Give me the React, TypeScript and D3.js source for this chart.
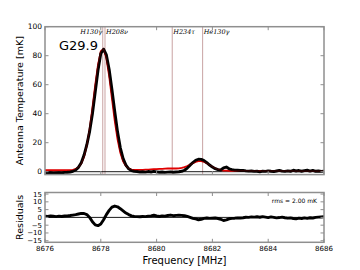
import React from 'react';
import * as d3 from 'd3';

// frequency grid of the spectrum (MHz), 0.1 MHz channels
const freqStart = 8676;
const freqStep = 0.1;

// observed antenna temperature (mK)
const dataValues = [
  -0.6, -0.9, -0.7, -1.0, -0.8, -0.6, -0.9, -0.5, -0.4, -0.2,
  0.3, 1.2, 3.0, 6.2, 11.5, 18.6, 27.8, 40.0, 55.0, 70.0,
  81.5, 84.5, 80.5, 70.5, 56.5, 41.5, 27.5, 16.5, 9.0, 4.5,
  2.0, 0.8, 0.3, 0.1, -0.2, 0.0, -0.3, 0.1, -0.2, 0.2,
  -0.1, -0.4, -0.2, -0.5, -0.3, -0.1, -0.4, -0.2, 0.0, 0.3,
  1.0, 2.5, 4.5, 6.3, 7.8, 8.6, 8.5, 7.6, 6.2, 4.6,
  3.2, 2.1, 1.4, 1.2, 2.6, 3.2, 2.0, 1.4, 1.1, 1.0,
  0.8, 0.9, 0.6, 0.4, 0.5, 0.2, 0.3, -0.1, 0.4, 0.2,
  0.6, 0.3, 0.1, 0.5, 0.9, 0.4, 0.2, 0.6, 0.3, 1.0,
  0.5, 0.8, 0.3, 0.7, 1.0, 0.4, 0.9, 0.3, 0.5, 0.2,
  0.4,
];

// fitted model (mK)
const modelValues = [
  1.0, 1.0, 1.0, 1.0, 1.0, 1.0, 1.0, 1.0, 1.0, 1.1,
  1.3, 1.9, 3.1, 5.6, 10.4, 18.2, 29.6, 44.1, 59.8, 73.9,
  83.0, 84.6, 78.3, 65.9, 50.4, 35.1, 22.3, 13.1, 7.2, 3.9,
  2.2, 1.5, 1.2, 1.2, 1.3, 1.3, 1.4, 1.5, 1.6, 1.7,
  1.8, 1.9, 2.0, 2.1, 2.2, 2.2, 2.2, 2.2, 2.3, 2.6,
  3.1, 3.9, 4.9, 5.9, 6.8, 7.3, 7.3, 6.8, 5.8, 4.6,
  3.4, 2.4, 1.6, 1.1, 0.8, 0.7, 0.6, 0.6, 0.6, 0.6,
  0.6, 0.6, 0.6, 0.6, 0.5, 0.5, 0.5, 0.5, 0.5, 0.5,
  0.5, 0.5, 0.5, 0.5, 0.5, 0.5, 0.5, 0.5, 0.5, 0.5,
  0.4, 0.4, 0.4, 0.4, 0.4, 0.4, 0.4, 0.4, 0.4, 0.4,
  0.4,
];

// residuals (mK)
const residValues = [
  0.8, 0.6, 0.9, 0.7, 0.5, 0.8, 0.6, 0.9, 1.0, 1.2,
  1.5, 1.8, 2.2, 2.6, 2.5, 1.8, 0.0, -2.8, -4.8, -5.3,
  -4.2, -1.5, 1.8, 4.5, 6.6, 7.3, 6.8, 5.6, 4.2, 2.8,
  1.8, 1.0, 0.6, 0.5, 0.4, 0.6, 0.5, 0.8, 1.0, 1.4,
  0.9, 0.6, 1.0, 0.8, 1.2, 1.5, 1.1, 1.3, 1.4, 1.3,
  1.1, 0.6, 0.0, -0.6, -1.0, -1.5, -1.2, -0.6, -0.4, -0.6,
  -0.5, -0.4, -0.7, -1.2, -2.0, -1.6, -0.9, -0.6, -0.5, -0.3,
  -0.4, -0.2, 0.1, 0.0, 0.3, 0.2, 0.4, 0.1, 0.5, 0.2,
  -0.1, 0.3, 0.0, -0.3, -0.1, 0.2, -0.2, -0.5, -0.3, -0.7,
  -0.9, -0.5, -0.7, -0.3, -0.6, -0.2, -0.4, 0.0, 0.2, 0.3,
  0.4,
];

// recombination line markers
const lineFreqs = [8678.07, 8678.15, 8680.56, 8681.65];
const lineNames = ['H130γ', 'H208ν', 'H234τ', 'He130γ'];

const xTicks = [8676, 8678, 8680, 8682, 8684, 8686];
const tempTicks = [0, 20, 40, 60, 80, 100];
const residTicks = [-15, -10, -5, 0, 5, 10, 15];

const W = 360;
const H = 270;
const left = 45;
const right = 324;
const topA = 26.7;
const botA = 174.6;
const topB = 192.5;
const botB = 242.3;

const spine = '#8f8f8f';
const sans = 'DejaVu Sans, sans-serif';

const App = () => {
  const freqs = dataValues.map((_, i) => freqStart + i * freqStep);

  const x = d3.scaleLinear().domain([8676, 8686]).range([left, right]);
  const yA = d3.scaleLinear().domain([-2, 100]).range([botA, topA]);
  const yB = d3.scaleLinear().domain([-16, 16]).range([botB, topB]);

  const lineA = d3.line<number>().x((_, i) => x(freqs[i])).y(d => yA(d));
  const lineB = d3.line<number>().x((_, i) => x(freqs[i])).y(d => yB(d));

  const tick = 3.5;

  return (
    <svg width={W} height={H} style={{ position: 'absolute', left: 0, top: 0, background: '#fff' }}>
      <defs>
        <clipPath id="clipA">
          <rect x={left} y={topA} width={right - left} height={botA - topA} />
        </clipPath>
        <clipPath id="clipB">
          <rect x={left} y={topB} width={right - left} height={botB - topB} />
        </clipPath>
      </defs>

      {/* top panel: spectrum, fit, line markers */}
      <g clipPath="url(#clipA)">
        {lineFreqs.map((f, i) => (
          <line key={i} x1={x(f)} x2={x(f)} y1={topA} y2={botA} stroke="#c9a3a3" strokeWidth={1} />
        ))}
        <line x1={left} x2={right} y1={yA(0)} y2={yA(0)} stroke="#000" strokeWidth={0.9} />
        <path d={lineA(modelValues) || ''} fill="none" stroke="#e00000" strokeWidth={1.8} />
        <path d={lineA(dataValues) || ''} fill="none" stroke="#000" strokeWidth={2.9} strokeLinejoin="round" />
        <path d={lineA(modelValues) || ''} fill="none" stroke="#e00000" strokeWidth={0.6} opacity={0.5} />
      </g>

      {lineFreqs.map((f, i) => (
        <text key={i} x={x(f) + (i === 0 ? -0.5 : 1)} y={33.5} fontSize={6.5} fontStyle="italic"
          fontFamily="DejaVu Serif, serif" textAnchor={i === 0 ? 'end' : 'start'} fill="#000">
          {lineNames[i]}
        </text>
      ))}

      <text x={59} y={50} fontSize={13} fontFamily={sans} fill="#000">G29.9</text>

      <rect x={left} y={topA} width={right - left} height={botA - topA} fill="none" stroke={spine} strokeWidth={1.5} />
      {xTicks.map(t => (
        <g key={t}>
          <line x1={x(t)} x2={x(t)} y1={botA} y2={botA - tick} stroke={spine} />
          <line x1={x(t)} x2={x(t)} y1={topA} y2={topA + tick} stroke={spine} />
        </g>
      ))}
      {tempTicks.map(t => (
        <g key={t}>
          <line x1={left} x2={left + tick} y1={yA(t)} y2={yA(t)} stroke={spine} />
          <line x1={right} x2={right - tick} y1={yA(t)} y2={yA(t)} stroke={spine} />
          <text x={left - 3} y={yA(t) + 2.6} fontSize={7.5} fontFamily={sans} textAnchor="end">{t}</text>
        </g>
      ))}
      <text transform={`translate(23,${(topA + botA) / 2}) rotate(-90)`} fontSize={9.5} fontFamily={sans}
        textAnchor="middle">Antenna Temperature [mK]</text>

      {/* residual panel */}
      <g clipPath="url(#clipB)">
        <line x1={left} x2={right} y1={yB(0)} y2={yB(0)} stroke="#000" strokeWidth={0.9} />
        <path d={lineB(residValues) || ''} fill="none" stroke="#000" strokeWidth={2.9} strokeLinejoin="round" />
      </g>
      <rect x={left} y={topB} width={right - left} height={botB - topB} fill="none" stroke={spine} strokeWidth={1.5} />
      {xTicks.map(t => (
        <g key={t}>
          <line x1={x(t)} x2={x(t)} y1={botB} y2={botB - tick} stroke={spine} />
          <line x1={x(t)} x2={x(t)} y1={topB} y2={topB + tick} stroke={spine} />
          <text x={x(t)} y={251} fontSize={7} fontFamily={sans} textAnchor="middle">{t}</text>
        </g>
      ))}
      {residTicks.map(t => (
        <g key={t}>
          <line x1={left} x2={left + tick} y1={yB(t)} y2={yB(t)} stroke={spine} />
          <line x1={right} x2={right - tick} y1={yB(t)} y2={yB(t)} stroke={spine} />
          <text x={left - 3} y={yB(t) + 2.5} fontSize={7} fontFamily={sans} textAnchor="end">
            {t < 0 ? `\u2212${-t}` : t}
          </text>
        </g>
      ))}
      <text transform={`translate(23,${(topB + botB) / 2}) rotate(-90)`} fontSize={9.5} fontFamily={sans}
        textAnchor="middle">Residuals</text>
      <text x={317} y={202.5} fontSize={6} fontFamily={sans} textAnchor="end">rms =  2.00 mK</text>

      <text x={(left + right) / 2} y={264} fontSize={10} fontFamily={sans} textAnchor="middle">Frequency [MHz]</text>
    </svg>
  );
};

export default App;
